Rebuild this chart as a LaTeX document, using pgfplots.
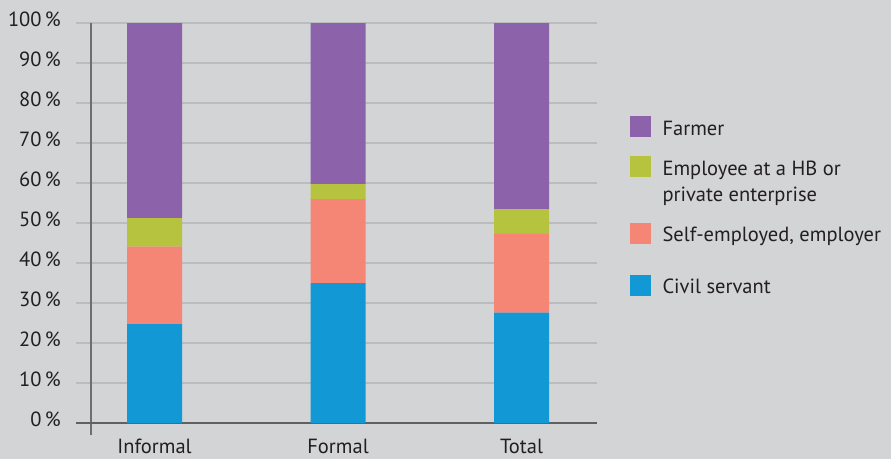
\documentclass[border=0pt]{standalone}
\usepackage{pgfplots}
\pgfplotsset{compat=1.18}
\usepackage{fontspec}
\setmainfont{PT Sans}
\definecolor{bg}{HTML}{D3D4D6}
\definecolor{gridc}{HTML}{BBBCBE}
\definecolor{axc}{HTML}{6E6E70}
\definecolor{txt}{HTML}{231F20}
\definecolor{cblue}{HTML}{1398D6}
\definecolor{csalmon}{HTML}{F58676}
\definecolor{cgreen}{HTML}{B5C33F}
\definecolor{cpurple}{HTML}{8C63AA}
\begin{document}
\fontsize{20.5}{26}\selectfont
\begin{tikzpicture}
\useasboundingbox (0,0) rectangle (891pt,459pt);
\fill[bg] (0,0) rectangle (891pt,459pt);
\begin{axis}[
  at={(76pt,36pt)}, anchor=south west,
  scale only axis, width=521pt, height=400pt,
  ybar stacked, bar width=55pt,
  xmin=-0.428, xmax=2.411, ymin=0, ymax=100,
  xtick={0,1,2}, xticklabels={Informal,Formal,Total},
  ytick={0,10,...,100},
  yticklabels={0\,\%,10\,\%,20\,\%,30\,\%,40\,\%,50\,\%,60\,\%,70\,\%,80\,\%,90\,\%,100\,\%},
  major tick length=0pt,
  axis line style={draw=none},
  ymajorgrids, grid style={gridc, line width=2pt},
  yticklabel style={anchor=east, inner sep=0pt, xshift=-15pt, yshift=4pt, text=txt},
  xticklabel style={anchor=north, inner sep=0pt, yshift=-16pt, text=txt},
  clip=false,
  reverse legend,
  legend style={draw=none, fill=none, at={(1.063,0.771)}, anchor=north west,
    inner sep=0pt, row sep=10.3pt, column sep=9.5pt,
    cells={anchor=base west, inner sep=0pt, text=txt}},
  legend image code/.code={\fill[#1] (0pt,-2pt) rectangle (21pt,19pt);},
]
\addplot[fill=cblue, draw=none] coordinates {(0,24.7) (1,35.0) (2,27.6)};
\addlegendentry[text height=18.2pt, text depth=7.8pt]{Civil servant}
\addplot[fill=csalmon, draw=none] coordinates {(0,19.4) (1,21.0) (2,19.7)};
\addlegendentry[text height=18.2pt, text depth=19.5pt]{Self-employed, employer}
\addplot[fill=cgreen, draw=none] coordinates {(0,7.1) (1,3.7) (2,6.2)};
\addlegendentry[text height=18.2pt, text depth=33.8pt]{\begin{tabular}[t]{@{}l@{}}Employee at a HB or\\private enterprise\end{tabular}}
\addplot[fill=cpurple, draw=none] coordinates {(0,48.8) (1,40.3) (2,46.5)};
\addlegendentry[text height=18.2pt, text depth=7.8pt]{Farmer}
\draw[gray!75!black, line width=2pt] (axis cs:-0.428,0) -- (axis cs:2.411,0);
\draw[axc, line width=2pt] (axis cs:-0.346,-3) -- (axis cs:-0.346,100);
\end{axis}
\end{tikzpicture}
\end{document}
